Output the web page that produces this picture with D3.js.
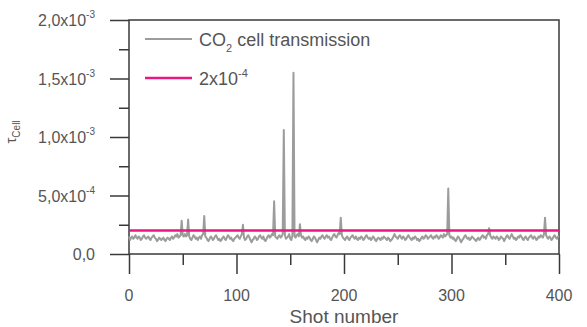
<!DOCTYPE html>
<html>
<head>
<meta charset="utf-8">
<script src="https://cdn.jsdelivr.net/npm/d3@7"></script>
<style>
	body { margin: 0; background: #fff; }
	svg { display: block; }
	text { fill: #555; }
</style>
</head>
<body>
<div id="chart"></div>
<script>
// tau_cell per shot, in units of 1e-4 (shots 0..400)
var valueUnit = 1e-4;
var tauCell = [
	1.5,1.2,1.4,1.5,1.3,1.4,1.6,1.4,1.3,1.5,1.4,1.2,1.3,1.5,1.6,1.4,1.3,1.4,1.5,1.3,
	1.2,1.4,1.5,1.6,1.4,1.3,1.1,1.2,1.4,1.3,1.2,1.3,1.4,1.2,1.1,1.3,1.4,1.3,1.2,1.4,
	1.5,1.3,1.4,1.6,1.5,1.7,1.4,1.5,1.6,2.85,1.6,1.5,1.7,1.5,1.6,2.95,1.5,1.3,1.2,1.4,
	1.6,1.5,1.3,1.4,1.2,1.4,1.5,1.3,1.6,1.7,3.25,1.5,1.4,1.2,1.1,1.3,1.5,1.4,1.2,1.3,
	1.5,1.6,1.4,1.2,1.3,1.1,1.2,1.4,1.5,1.3,1.2,1.4,1.6,1.5,1.3,1.4,1.2,1.1,1.3,1.4,
	1.5,1.6,1.4,1.3,1.5,1.7,2.5,1.4,1.2,1.3,1.5,1.6,1.4,1.2,1.0,1.2,1.3,1.5,1.4,1.2,
	1.3,1.5,1.6,1.4,1.3,1.5,1.2,1.1,1.3,1.5,1.6,1.4,1.5,1.7,1.6,4.5,1.5,1.4,1.3,1.5,
	1.6,1.4,1.5,1.7,10.6,1.6,1.3,1.4,1.5,1.7,1.3,1.2,1.6,15.5,1.5,1.4,1.6,1.7,1.5,2.55,
	1.6,1.4,1.5,1.3,1.2,1.4,1.3,1.5,1.4,1.2,1.1,1.3,1.5,1.4,1.2,1.0,1.2,1.4,1.3,1.5,
	1.6,1.4,1.3,1.5,1.6,1.4,1.5,1.3,1.2,1.4,1.6,1.7,1.5,1.4,1.6,1.8,1.7,3.1,1.6,1.4,
	1.3,1.2,1.4,1.5,1.3,1.2,1.4,1.5,1.6,1.4,1.3,1.5,1.3,1.2,1.4,1.3,1.5,1.4,1.2,1.3,
	1.5,1.6,1.4,1.3,1.4,1.2,1.3,1.5,1.4,1.2,1.1,1.3,1.4,1.3,1.2,1.4,1.3,1.5,1.4,1.3,
	1.2,1.4,1.3,1.1,1.2,1.3,1.5,1.7,1.5,1.4,1.3,1.5,1.6,1.4,1.3,1.5,1.4,1.2,1.3,1.5,
	1.6,1.4,1.3,1.2,1.4,1.3,1.5,1.4,1.2,1.3,1.1,1.2,1.4,1.5,1.3,1.4,1.6,1.5,1.3,1.4,
	1.5,1.6,1.4,1.3,1.5,1.4,1.6,1.5,1.3,1.4,1.6,1.5,1.4,1.7,1.5,1.6,1.7,5.6,1.6,1.4,
	1.5,1.3,1.4,1.2,1.1,1.3,1.5,1.4,1.2,1.0,1.2,1.3,1.5,1.6,1.4,1.3,1.4,1.2,1.3,1.5,
	1.4,1.3,1.2,1.1,1.3,1.4,1.2,1.3,1.5,1.6,1.4,1.5,1.3,1.6,1.7,2.2,1.6,1.4,1.3,1.5,
	1.4,1.3,1.5,1.4,1.2,1.3,1.5,1.4,1.3,1.1,1.3,1.5,1.6,1.4,1.3,1.5,1.7,1.5,1.3,1.4,
	1.2,1.3,1.5,1.4,1.6,1.5,1.3,1.2,1.4,1.5,1.3,1.2,1.4,1.5,1.6,1.4,1.3,1.5,1.4,1.2,
	1.3,1.5,1.4,1.6,1.5,1.4,1.7,3.1,1.6,1.4,1.3,1.5,1.4,1.2,1.3,1.5,1.6,1.4,1.3,1.5,
	1.5
];
var threshold = 2e-4;

var xTicks = [0, 100, 200, 300, 400];
var xMinorTicks = [50, 150, 250, 350];
var yTicks = [0, 5e-4, 1e-3, 1.5e-3, 2e-3];
var yMinorTicks = [2.5e-4, 7.5e-4, 1.25e-3, 1.75e-3];
// [mantissa, exponent] per y tick
var yTickLabels = [["0,0", ""], ["5,0x10", "-4"], ["1,0x10", "-3"], ["1,5x10", "-3"], ["2,0x10", "-3"]];

var fmt = {
	width: 587, height: 327,
	left: 129, right: 28, top: 20, bottom: 73,
	clr_axis: '#3a3a3a',
	clr_series: '#9c9c9c',
	clr_thresh: '#e8187f',
	font: '"Liberation Sans", Arial, sans-serif'
};

var svg = d3.select('#chart').append('svg')
	.attr('width', fmt.width)
	.attr('height', fmt.height)
	.style('font-family', fmt.font);

var x = d3.scaleLinear().domain([0, 400]).range([fmt.left, fmt.width - fmt.right]);
var y = d3.scaleLinear().domain([0, 2e-3]).range([fmt.height - fmt.bottom, fmt.top]);

// frame
svg.append('rect')
	.attr('x', x(0)).attr('y', y(2e-3))
	.attr('width', x(400) - x(0)).attr('height', y(0) - y(2e-3))
	.attr('fill', 'none').attr('stroke', fmt.clr_axis).attr('stroke-width', 1.5);

// axes (ticks only, labels drawn below)
function styleAxis(g) {
	g.select('.domain').remove();
	g.selectAll('line').attr('stroke', fmt.clr_axis).attr('stroke-width', 1.5);
}
svg.append('g').attr('transform', `translate(0,${y(0)})`)
	.call(d3.axisBottom(x).tickValues(xTicks).tickSize(20).tickFormat(''))
	.call(styleAxis);
svg.append('g').attr('transform', `translate(0,${y(0)})`)
	.call(d3.axisBottom(x).tickValues(xMinorTicks).tickSize(11).tickFormat(''))
	.call(styleAxis);
svg.append('g').attr('transform', `translate(${x(0)},0)`)
	.call(d3.axisLeft(y).tickValues(yTicks).tickSize(19).tickFormat(''))
	.call(styleAxis);
svg.append('g').attr('transform', `translate(${x(0)},0)`)
	.call(d3.axisLeft(y).tickValues(yMinorTicks).tickSize(10).tickFormat(''))
	.call(styleAxis);

// x tick labels
svg.selectAll('text.xlab').data(xTicks).enter().append('text')
	.attr('class', 'xlab')
	.attr('x', function(d) { return x(d); })
	.attr('y', y(0) + 47)
	.attr('text-anchor', 'middle')
	.style('font-size', '16px')
	.text(function(d) { return d; });

// y tick labels with exponent
var ylab = svg.selectAll('text.ylab').data(yTicks).enter().append('text')
	.attr('class', 'ylab')
	.attr('x', 95)
	.attr('y', function(d) { return y(d) + 6; })
	.attr('text-anchor', 'end')
	.style('font-size', '16px');
ylab.append('tspan').text(function(d, i) { return yTickLabels[i][0]; });
ylab.append('tspan')
	.attr('dy', -8)
	.style('font-size', '10px')
	.text(function(d, i) { return yTickLabels[i][1]; });

// axis titles
svg.append('text')
	.attr('x', (x(0) + x(400)) / 2)
	.attr('y', 323)
	.attr('text-anchor', 'middle')
	.style('font-size', '19px')
	.text('Shot number');

var yt = svg.append('text')
	.attr('transform', 'translate(16,132) rotate(-90)')
	.attr('text-anchor', 'middle')
	.style('font-size', '15px');
yt.append('tspan').text('τ');
yt.append('tspan').attr('dy', 4).style('font-size', '10px').text('Cell');

// series
var line = d3.line()
	.x(function(d, i) { return x(i); })
	.y(function(d) { return y(d * valueUnit); });

svg.append('path')
	.datum(tauCell)
	.attr('d', line)
	.attr('fill', 'none')
	.attr('stroke', fmt.clr_series)
	.attr('stroke-width', 2)
	.attr('stroke-linejoin', 'round');

svg.append('line')
	.attr('x1', x(0)).attr('x2', x(400))
	.attr('y1', y(threshold)).attr('y2', y(threshold))
	.attr('stroke', fmt.clr_thresh)
	.attr('stroke-width', 2.5);

// legend
var lg = svg.append('g');
lg.append('line').attr('x1', 145).attr('x2', 192).attr('y1', 39).attr('y2', 39)
	.attr('stroke', fmt.clr_series).attr('stroke-width', 2);
var t1 = lg.append('text').attr('x', 199).attr('y', 46).style('font-size', '18px');
t1.append('tspan').text('CO');
t1.append('tspan').attr('dy', 6).style('font-size', '11px').text('2');
t1.append('tspan').attr('dy', -6).text(' cell transmission');

lg.append('line').attr('x1', 145).attr('x2', 192).attr('y1', 78).attr('y2', 78)
	.attr('stroke', fmt.clr_thresh).attr('stroke-width', 2.5);
var t2 = lg.append('text').attr('x', 199).attr('y', 85).style('font-size', '18px');
t2.append('tspan').text('2x10');
t2.append('tspan').attr('dy', -8).style('font-size', '11px').text('-4');
</script>
</body>
</html>
